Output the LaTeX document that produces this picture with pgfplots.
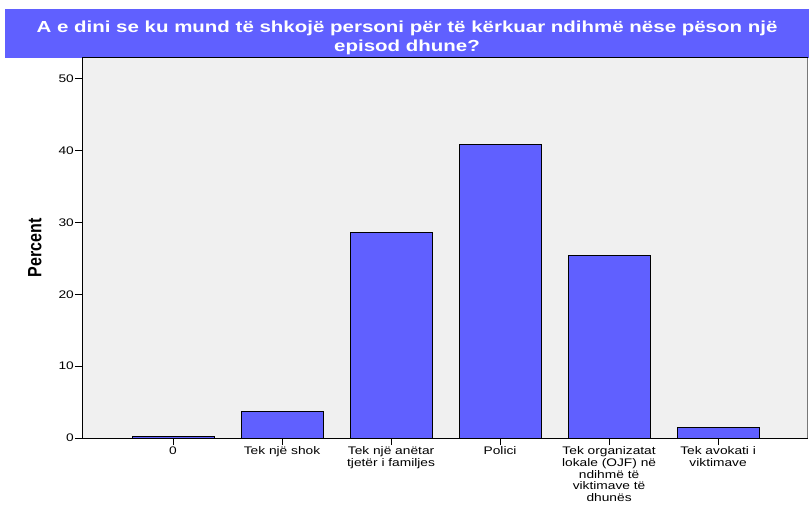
\documentclass[border=0pt]{standalone}
\usepackage{fontspec}
\setmainfont{Liberation Sans}[FakeStretch=1.25]
\newfontfamily\titlefont{Liberation Sans}[FakeStretch=1.28]
\newfontfamily\labelfont{Liberation Sans}
\usepackage{pgfplots}
\pgfplotsset{compat=1.18}
\definecolor{barblue}{RGB}{96,96,255}
\definecolor{plotbg}{RGB}{240,240,240}
\begin{document}
\begin{tikzpicture}[x=1pt,y=1pt]
\path[use as bounding box] (0,0) rectangle (809,504);
\fill[barblue] (5,446) rectangle (809,495);
\node[white, font=\titlefont\bfseries\fontsize{16}{19}\selectfont, align=center, inner sep=0pt] at (407,466.5) {A e dini se ku mund të shkojë personi për të kërkuar ndihmë nëse pëson një\\episod dhune?};
\begin{axis}[
 at={(82pt,66pt)}, anchor=south west, scale only axis, width=725.5pt, height=380pt,
 xmin=-0.835, xmax=5.82, ymin=0, ymax=52.9,
 ybar, bar width=82pt,
 axis background/.style={fill=plotbg},
 axis line style={line width=1pt},
 tick align=outside, xtick pos=left, ytick pos=left,
 major tick length=7pt, tick style={black, line width=1pt},
 ytick={0,10,...,50}, xtick={0,...,5},
 xticklabels={0, Tek një shok, {Tek një anëtar\\tjetër i familjes}, Polici, {Tek organizatat\\lokale (OJF) në\\ndihmë të\\viktimave të\\dhunës}, {Tek avokati i\\viktimave}},
 xticklabel style={align=center, font=\fontsize{11}{11.7}\selectfont, inner sep=1.5pt},
 yticklabel style={font=\fontsize{11}{12}\selectfont, inner sep=1pt},
 /pgf/number format/assume math mode=true,
 ylabel={\scalebox{1}[1.2]{Percent}},
 ylabel style={font=\labelfont\bfseries\fontsize{16}{16}\selectfont, at={(axis description cs:-0.065,0.5)}, anchor=center, rotate=0},
]
\addplot[fill=barblue, draw=black, line width=1pt] coordinates {(0,0.2) (1,3.75) (2,28.55) (3,40.8) (4,25.35) (5,1.4)};
\draw[gray!55, line width=0.8pt] (rel axis cs:1,0) -- (rel axis cs:1,1);
\end{axis}
\end{tikzpicture}
\end{document}
